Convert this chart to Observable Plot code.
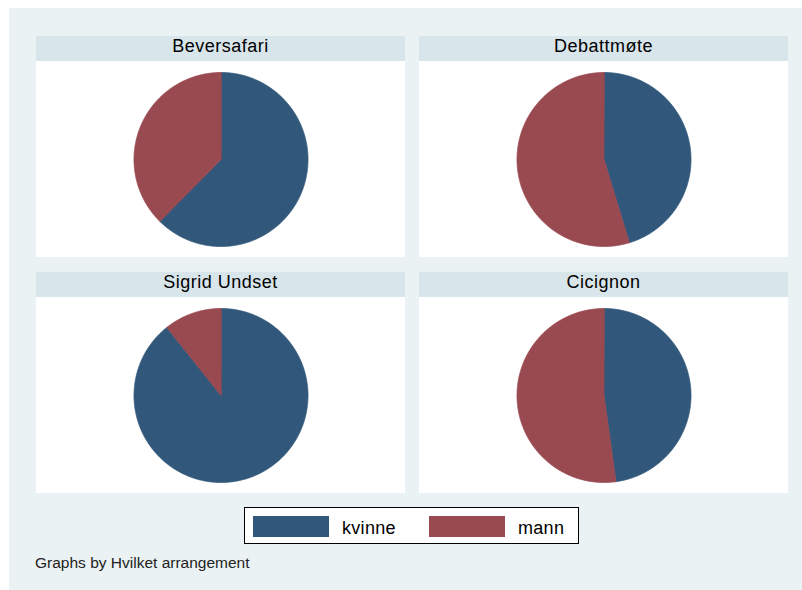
<!DOCTYPE html>
<html>
<head>
<meta charset="utf-8">
<script src="https://cdn.jsdelivr.net/npm/d3@7"></script>
<script src="https://cdn.jsdelivr.net/npm/@observablehq/plot@0.6"></script>
<style>
  html, body { margin: 0; padding: 0; background: #ffffff; }
  body { font-family: "Liberation Sans", Arial, sans-serif; }
  #wrap { position: relative; width: 802px; height: 590px; background: #ffffff; overflow: hidden; }
  #bg { position: absolute; left: 9px; top: 8px; right: 0; bottom: 0; background: #eaf2f3; }
  .panel { position: absolute; width: 369px; }
  .ptitle { height: 25px; background: #d8e5ea; text-align: center; font-size: 18px; line-height: 21px; letter-spacing: 0.5px; color: #000; }
  .pbody { background: #ffffff; height: 196px; }
  .pbody svg { display: block; }
  #legend { position: absolute; left: 244px; top: 507px; width: 333px; height: 35px; border: 1px solid #000; background: #fff; }
  .sw { position: absolute; top: 8px; width: 76px; height: 21px; }
  .lt { position: absolute; top: 10px; font-size: 18px; line-height: 20px; letter-spacing: 0.3px; color: #000; }
  #caption { position: absolute; left: 35px; top: 554px; font-size: 15.5px; line-height: 18px; color: #222; }
</style>
</head>
<body>
<div id="wrap">
  <div id="bg"></div>
</div>
<script>
// ---- data ----
const arrangements = ["Beversafari", "Debattmøte", "Sigrid Undset", "Cicignon"];
const genders = ["kvinne", "mann"];
const kvinneShare = [0.624, 0.453, 0.893, 0.478];
const mannShare   = [0.376, 0.547, 0.107, 0.522];
const genderColors = ["#31587a", "#994950"];
const captionText = "Graphs by Hvilket arrangement";

// ---- layout ----
const panelLeft = [36, 419, 36, 419];
const panelTop = [36, 36, 272, 272];

const wrap = document.getElementById("wrap");

// Build pie slices as planar polygons (screen orientation: y grows downward)
function slicesFor(i) {
  const values = [kvinneShare[i], mannShare[i]];
  const arcs = d3.pie().sort(null).startAngle(0).endAngle(2 * Math.PI)(values);
  return arcs.map((a, j) => {
    const ring = [[0, 0]];
    const n = Math.max(2, Math.ceil((a.endAngle - a.startAngle) / (Math.PI / 360)));
    for (let k = 0; k <= n; k++) {
      const t = a.startAngle + (a.endAngle - a.startAngle) * k / n;
      ring.push([Math.sin(t), -Math.cos(t)]);
    }
    ring.push([0, 0]);
    return {type: "Feature", properties: {gender: genders[j]}, geometry: {type: "Polygon", coordinates: [ring]}};
  });
}

const extent = {type: "MultiPoint", coordinates: [[-1, -1], [1, 1]]};

arrangements.forEach((name, i) => {
  const panel = document.createElement("div");
  panel.className = "panel";
  panel.style.left = panelLeft[i] + "px";
  panel.style.top = panelTop[i] + "px";
  const title = document.createElement("div");
  title.className = "ptitle";
  title.textContent = name;
  const body = document.createElement("div");
  body.className = "pbody";
  panel.appendChild(title);
  panel.appendChild(body);
  wrap.appendChild(panel);

  const chart = Plot.plot({
    width: 369,
    height: 196,
    margin: 0,
    style: {background: "#ffffff"},
    projection: {type: "identity", reflectY: false, domain: extent, inset: 11},
    color: {domain: genders, range: genderColors},
    marks: [
      Plot.geo(slicesFor(i), {
        fill: d => d.properties.gender,
        stroke: d => d.properties.gender,
        strokeWidth: 0.8
      })
    ]
  });
  body.appendChild(chart);
});

// legend
const legend = document.createElement("div");
legend.id = "legend";
const swLeft = [8, 184];
const ltLeft = [97, 273];
const colorScale = Plot.scale({color: {domain: genders, range: genderColors}});
genders.forEach((g, j) => {
  const sw = document.createElement("div");
  sw.className = "sw";
  sw.style.left = swLeft[j] + "px";
  sw.style.background = colorScale.apply(g);
  legend.appendChild(sw);
  const lt = document.createElement("div");
  lt.className = "lt";
  lt.style.left = ltLeft[j] + "px";
  lt.textContent = g;
  legend.appendChild(lt);
});
wrap.appendChild(legend);

const cap = document.createElement("div");
cap.id = "caption";
cap.textContent = captionText;
wrap.appendChild(cap);
</script>
</body>
</html>
